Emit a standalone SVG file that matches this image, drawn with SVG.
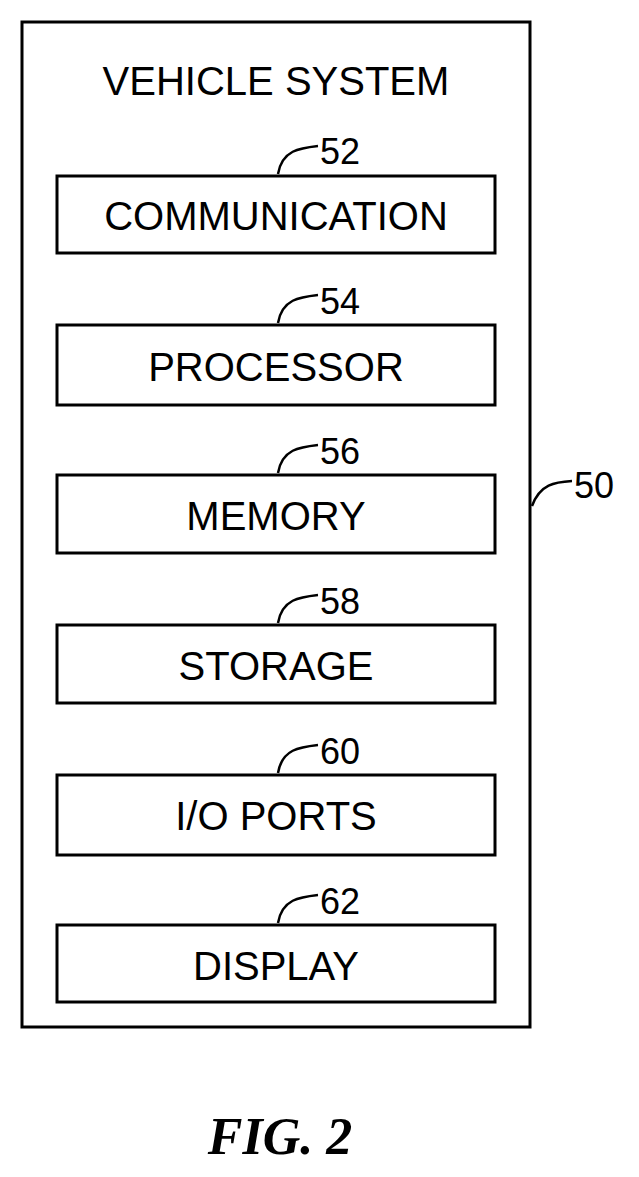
<svg xmlns="http://www.w3.org/2000/svg" width="639" height="1177" viewBox="0 0 639 1177">
<style>
.b{fill:#fff;stroke:#000;stroke-width:3}
.t{font-family:"Liberation Sans",Arial,sans-serif;font-size:40px;text-anchor:middle;fill:#000}
.n{font-family:"Liberation Sans",Arial,sans-serif;font-size:36px;fill:#000}
.l{fill:none;stroke:#000;stroke-width:2.5}
.f{font-family:"Liberation Serif","Times New Roman",serif;font-style:italic;font-weight:bold;font-size:52px;text-anchor:middle;fill:#000}
</style>
<rect width="639" height="1177" fill="#fff"/>
<g id="n50"><rect class="b" x="22" y="22" width="508" height="1005"/><text class="t" x="276" y="95">VEHICLE SYSTEM</text><text class="n" x="574" y="498">50</text></g>
<g id="n52"><rect class="b" x="57" y="176" width="438" height="77"/><text class="t" x="276" y="230">COMMUNICATION</text><text class="n" x="320" y="164">52</text></g>
<g id="n54"><rect class="b" x="57" y="325" width="438" height="80"/><text class="t" x="276" y="381">PROCESSOR</text><text class="n" x="320" y="314">54</text></g>
<g id="n56"><rect class="b" x="57" y="475" width="438" height="78"/><text class="t" x="276" y="530">MEMORY</text><text class="n" x="320" y="464">56</text></g>
<g id="n58"><rect class="b" x="57" y="625" width="438" height="78"/><text class="t" x="276" y="680">STORAGE</text><text class="n" x="320" y="614">58</text></g>
<g id="n60"><rect class="b" x="57" y="775" width="438" height="80"/><text class="t" x="276" y="830">I/O PORTS</text><text class="n" x="320" y="764">60</text></g>
<g id="n62"><rect class="b" x="57" y="925" width="438" height="77"/><text class="t" x="276" y="980">DISPLAY</text><text class="n" x="320" y="914">62</text></g>
<g id="connectors">
<path class="l" d="M278 174 C282 150 300 148 318 146"/>
<path class="l" d="M278 323 C282 299 300 297 318 295"/>
<path class="l" d="M278 473 C282 449 300 447 318 445"/>
<path class="l" d="M278 623 C282 599 300 597 318 595"/>
<path class="l" d="M278 773 C282 749 300 747 318 745"/>
<path class="l" d="M278 923 C282 899 300 897 318 895"/>
<path class="l" d="M532 506 C540 484 555 482 572 481"/>
</g>
<text class="f" x="280" y="1154">FIG. 2</text>
</svg>
